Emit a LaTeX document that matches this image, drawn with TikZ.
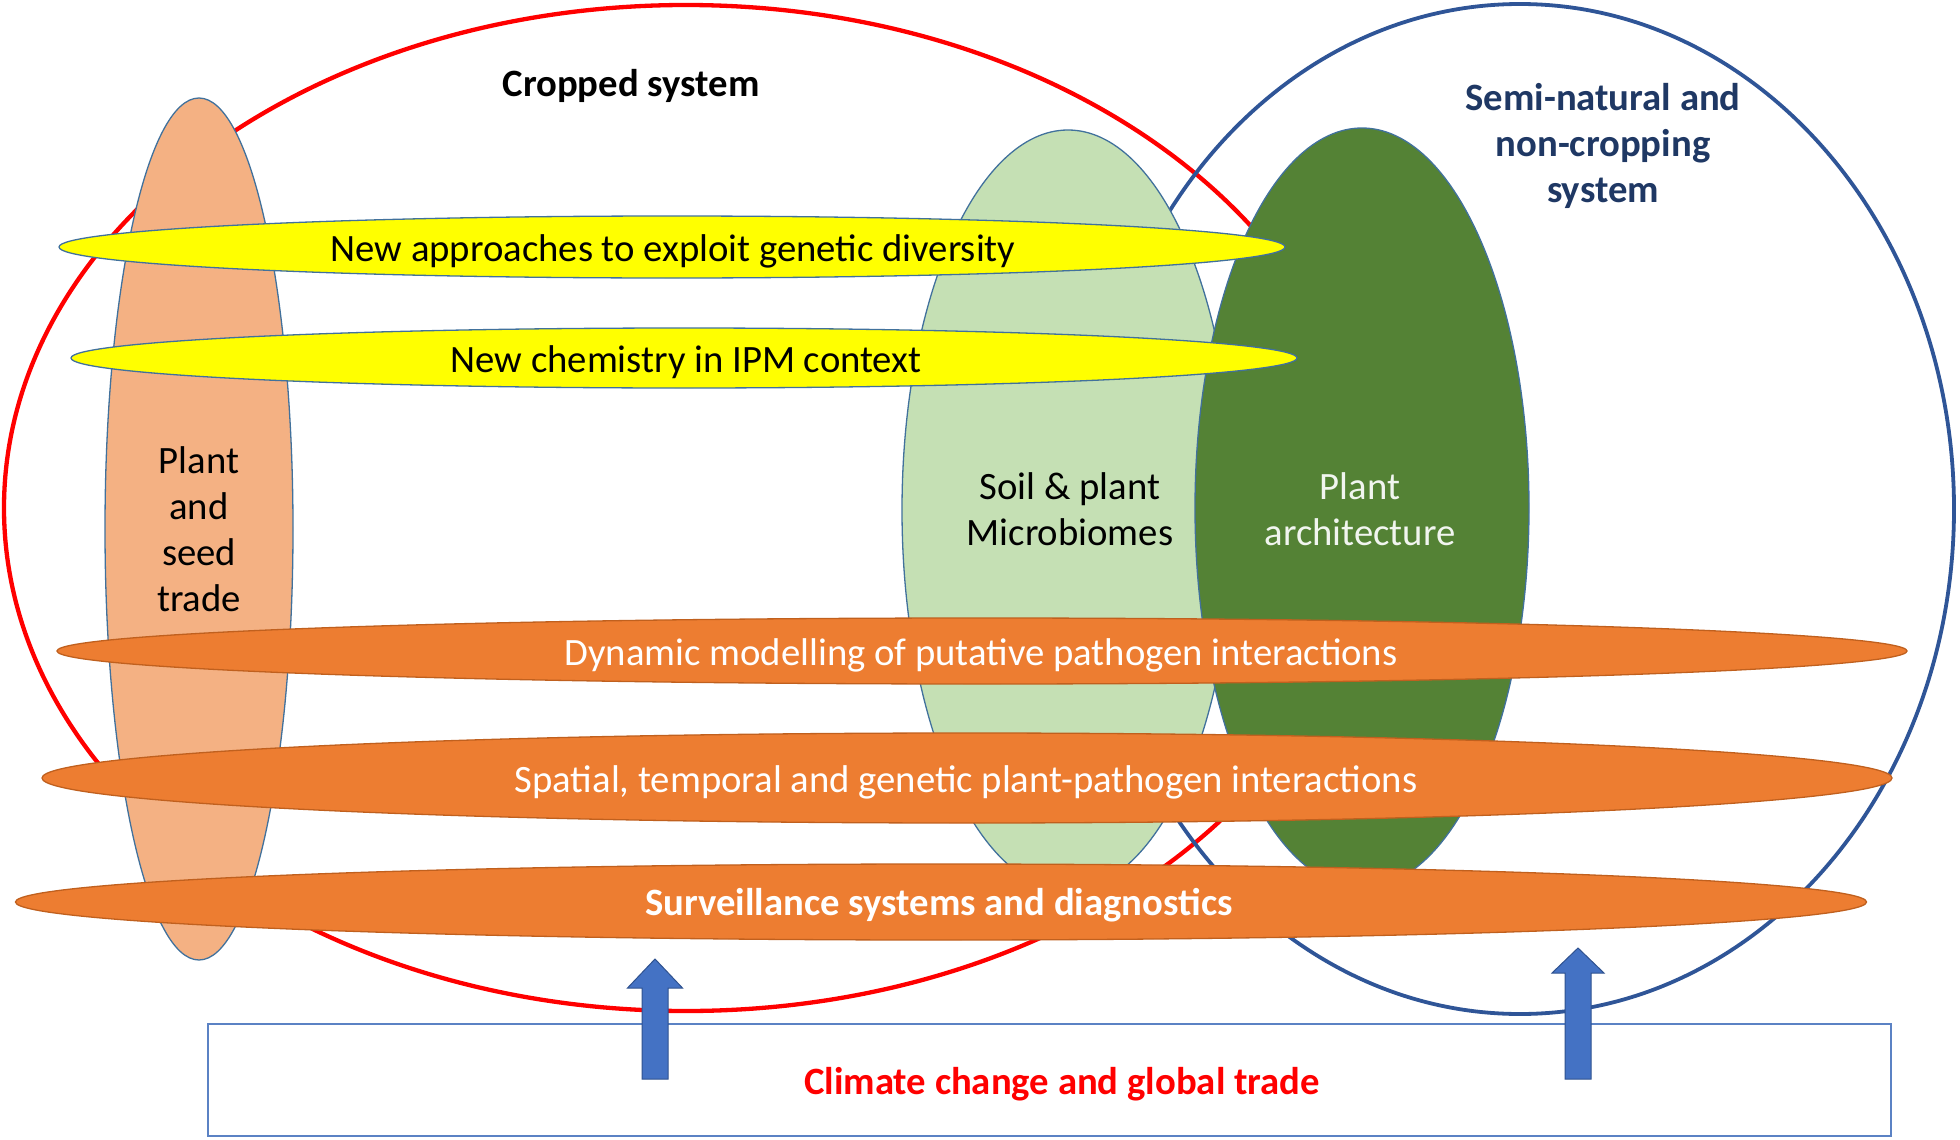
\documentclass[tikz,border=0pt]{standalone}
\usepackage{fontspec}
\setmainfont{Carlito}
\usetikzlibrary{shapes.geometric}
\definecolor{cropred}{HTML}{FF0000}
\definecolor{seminavy}{HTML}{2F5597}
\definecolor{textnavy}{HTML}{1F3864}
\definecolor{peach}{HTML}{F4B183}
\definecolor{lightgreen}{HTML}{C5E0B4}
\definecolor{darkgreen}{HTML}{548235}
\definecolor{ellyellow}{HTML}{FFFF00}
\definecolor{ellorange}{HTML}{ED7D31}
\definecolor{orangeline}{HTML}{C0601E}
\definecolor{thinblue}{HTML}{41719C}
\definecolor{arrowblue}{HTML}{4472C4}
\definecolor{arrowline}{HTML}{2F528F}
\definecolor{rectblue}{HTML}{5B82C4}
\tikzset{
  oval/.style={ellipse, inner sep=0pt, outer sep=0pt},
  inner/.style={oval, draw=thinblue, line width=1.3pt},
  band/.style={oval, fill=ellorange, draw=orangeline, line width=1.3pt},
  yband/.style={oval, fill=ellyellow, draw=thinblue, line width=1.3pt},
  txt/.style={font=\fontsize{38.7}{46}\selectfont, align=center, inner sep=0pt},
  btxt/.style={txt, font=\fontsize{38.7}{46}\selectfont\bfseries},
  blockarrow/.style={fill=arrowblue, draw=arrowline, line width=1pt, line join=miter}
}
\begin{document}
\begin{tikzpicture}[x=1pt,y=-1pt]
\useasboundingbox (0,0) rectangle (1960,1140);
% system outlines
\node[oval, draw=cropred, line width=4.3pt, minimum width=1364pt, minimum height=1006pt] (crop) at (686,508) {};
\node[oval, draw=seminavy, line width=3.8pt, minimum width=868pt, minimum height=1010pt] (semi) at (1520,509) {};
% vertical ellipses
\node[inner, fill=peach, minimum width=188pt, minimum height=862pt] (trade) at (199,529) {};
\node[inner, fill=lightgreen, minimum width=332pt, minimum height=760pt] (micro) at (1068,510) {};
\node[inner, fill=darkgreen, minimum width=334pt, minimum height=760pt] (archi) at (1362,508) {};
% horizontal bands
\node[yband, minimum width=1226pt, minimum height=62pt] (gen) at (672,247) {};
\node[yband, minimum width=1226pt, minimum height=60pt] (chem) at (684,358) {};
\node[band, minimum width=1850pt, minimum height=66pt] (dyn) at (982,651) {};
\node[band, minimum width=1850pt, minimum height=90pt] (spat) at (967,778) {};
\node[band, minimum width=1851pt, minimum height=76pt] (surv) at (941,902) {};
% driver box
\node[draw=rectblue, line width=2pt, fill=white, minimum width=1683pt, minimum height=112pt, inner sep=0pt] (drv) at (1049.5,1080) {};
% block arrows
\filldraw[blockarrow, shift={(655,959)}] (-13,120) -- (-13,29) -- (-27.5,29) -- (0,0) -- (27.5,29) -- (13,29) -- (13,120) -- cycle;
\filldraw[blockarrow, shift={(1578,948)}] (-13,131) -- (-13,25) -- (-26,25) -- (0,0) -- (26,25) -- (13,25) -- (13,131) -- cycle;
% texts
\node[btxt] at (631,86) {Cropped system};
\node[btxt, text=textnavy] at (1603,146) {Semi-natural and\\non-cropping\\system};
\node[txt] at (trade) {Plant\\and\\seed\\trade};
\node[txt] at (1070,509) {Soil \& plant\\Microbiomes};
\node[txt, text=white!92!darkgreen] at (1360,509) {Plant\\architecture};
\node[txt] at (673,251) {New approaches to exploit genetic diversity};
\node[txt] at (686,362) {New chemistry in IPM context};
\node[txt, text=white] at (981,655) {Dynamic modelling of putative pathogen interactions};
\node[txt, text=white] at (966,782) {Spatial, temporal and genetic plant-pathogen interactions};
\node[btxt, text=white] at (939,905) {Surveillance systems and diagnostics};
\node[btxt, text=cropred] at (1062,1084) {Climate change and global trade};
\end{tikzpicture}
\end{document}
